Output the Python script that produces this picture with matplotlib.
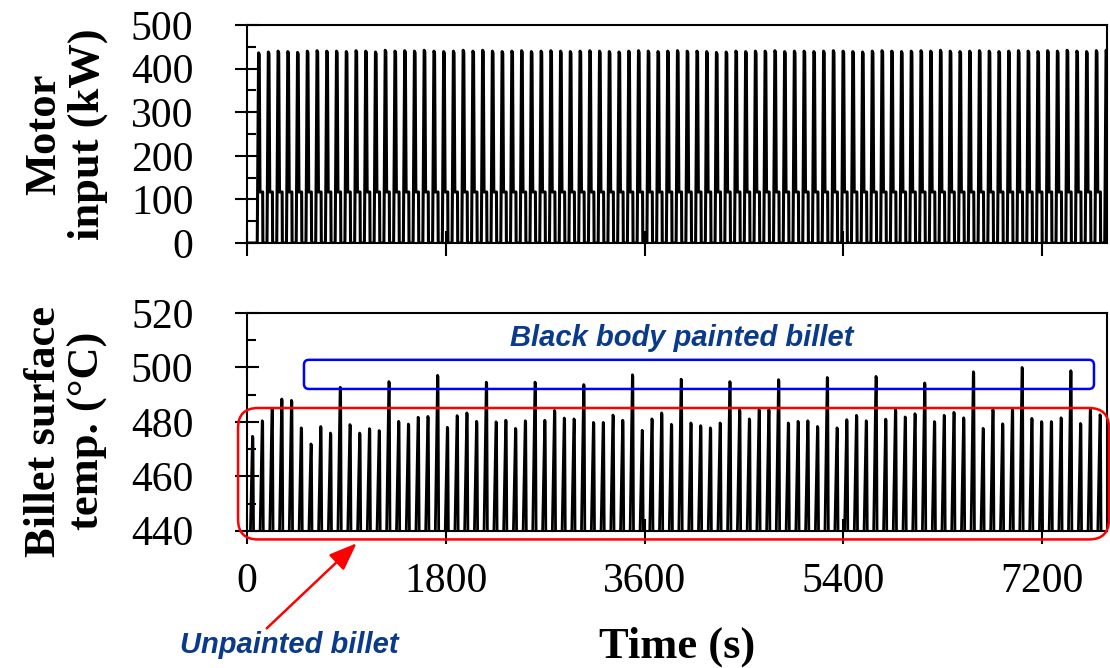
import matplotlib
matplotlib.use("Agg")
import matplotlib.pyplot as plt
from matplotlib.patches import FancyBboxPatch
from matplotlib.transforms import IdentityTransform

plt.rcParams['font.family'] = 'Liberation Serif'

# one billet every ~88 s
cycle_period = 88.2
first_motor_peak = 108.0
first_temp_peak = 52.0

# motor input, peak of each cycle (kW)
motor_peaks = [436, 438, 440, 439, 437, 440, 441, 440, 440, 439, 441, 440,
               438, 442, 440, 441, 440, 442, 440, 439, 440, 442, 440, 442,
               440, 439, 440, 441, 439, 440, 441, 440, 439, 440, 441, 440,
               439, 438, 440, 441, 440, 439, 440, 441, 440, 440, 439, 437,
               438, 440, 439, 440, 440, 441, 439, 440, 440, 439, 440, 441,
               440, 439, 438, 440, 441, 440, 439, 440, 441, 440, 442, 440,
               439, 440, 441, 440, 439, 440, 441, 440, 439, 441, 440, 442,
               440, 439, 441, 442]
motor_plateau = 117

# billet surface temperature, peak of each spike (degC)
temp_peaks = [474.7, 480.4, 484.7, 488.4, 487.9, 477.8, 471.9, 478.3, 475.9, 492.7,
              479.0, 475.9, 477.5, 476.8, 494.8, 480.2, 479.2, 481.7, 482.0, 497.1,
              478.0, 482.3, 483.3, 480.2, 494.6, 480.0, 480.6, 477.6, 480.4, 494.6,
              480.6, 484.2, 481.4, 481.1, 493.7, 479.8, 479.8, 482.5, 480.6, 497.3,
              476.9, 481.1, 483.3, 479.1, 495.7, 479.6, 478.6, 477.8, 479.6, 494.8,
              484.5, 481.1, 484.5, 484.5, 495.5, 479.6, 480.2, 480.4, 478.3, 496.3,
              477.8, 480.8, 482.4, 480.4, 496.7, 481.0, 484.5, 481.8, 483.0, 494.3,
              480.1, 482.4, 483.5, 481.5, 498.4, 477.6, 484.5, 479.3, 484.5, 500.0,
              481.3, 480.1, 480.1, 481.5, 498.8, 479.4, 484.5, 482.6, 479.0]
temp_base = 430  # between spikes, below the axis range

xticks = [0, 1800, 3600, 5400, 7200]


# build the traces cycle by cycle
def motor_trace():
    t, p = [0.0], [0.0]
    for i, pk in enumerate(motor_peaks):
        tp = first_motor_peak + i * cycle_period
        t += [tp - 15, tp - 3, tp + 3, tp + 10, tp + 34, tp + 36]
        p += [0, pk, pk - 4, motor_plateau, motor_plateau, 0]
    return t, p


def temp_trace():
    t, T = [], []
    for i, pk in enumerate(temp_peaks):
        tp = first_temp_peak + i * cycle_period
        t += [tp - 26, tp - 2, tp + 2, tp + 9]
        T += [temp_base, pk, pk - 0.5, temp_base]
    return t, T


# rounded box given in data units, drawn in pixels so corners stay round
def round_box(ax, x0, x1, y0, y1, color, radius):
    (px0, py0) = ax.transData.transform((x0, y0))
    (px1, py1) = ax.transData.transform((x1, y1))
    box = FancyBboxPatch((px0, py0), px1 - px0, py1 - py0,
                         boxstyle="round,pad=0,rounding_size=%g" % radius,
                         transform=IdentityTransform(), fill=False,
                         edgecolor=color, linewidth=1.8, clip_on=False, zorder=1)
    ax.figure.add_artist(box)


fig = plt.figure(figsize=(11.1, 6.68), dpi=100)
ax1 = fig.add_axes([0.2225, 0.6362, 0.7748, 0.3264])
ax2 = fig.add_axes([0.2225, 0.2055, 0.7748, 0.3259])

t, p = motor_trace()
ax1.plot(t, p, color='black', linewidth=2.2, zorder=2)
t, T = temp_trace()
ax2.plot(t, T, color='black', linewidth=2.0, zorder=2)

for ax in (ax1, ax2):
    ax.set_xlim(0, 7787)
    ax.set_xticks(xticks)
    for s in ax.spines.values():
        s.set_linewidth(1.5)
    ax.tick_params(axis='x', direction='inout', length=18, width=1.5,
                   labelsize=30, pad=14)
    ax.tick_params(axis='y', which='major', direction='inout', length=17,
                   width=1.5, labelsize=30, pad=30)
    ax.tick_params(axis='y', which='minor', direction='in', length=6.5, width=1.5)

ax1.set_ylim(0, 500)
ax1.set_yticks([0, 100, 200, 300, 400, 500])
ax1.set_yticks(range(50, 500, 100), minor=True)
ax1.tick_params(axis='x', labelbottom=False)
ax1.set_ylabel('Motor\ninput (kW)', fontsize=32, fontweight='bold', linespacing=1.1)
ax1.yaxis.set_label_coords(-0.162, 0.5)

ax2.set_ylim(440, 520)
ax2.set_yticks([440, 460, 480, 500, 520])
ax2.set_yticks([450, 470, 490, 510], minor=True)
ax2.set_ylabel('Billet surface\ntemp. (°C)', fontsize=32, fontweight='bold', linespacing=1.1)
ax2.yaxis.set_label_coords(-0.162, 0.458)
ax2.set_xlabel('Time (s)', fontsize=32, fontweight='bold')
ax2.xaxis.set_label_coords(0.5, -0.44)

note_color = '#0a3a8a'
note_font = dict(family='Liberation Sans', fontsize=21, fontweight='bold',
                 style='italic', color=note_color)

round_box(ax2, 516, 7669, 492.1, 502.8, 'blue', 5)
round_box(ax2, -81, 7805, 436.8, 485.1, 'red', 20)
ax2.text(3939, 510.9, 'Black body painted billet', ha='center', va='center', **note_font)

ax2.annotate('', xy=(993, 435.4), xycoords='data',
             xytext=(0.2403, 0.0594), textcoords='figure fraction',
             arrowprops=dict(arrowstyle='-|>,head_length=0.85,head_width=0.33',
                             mutation_scale=20, color='red', lw=1.8,
                             shrinkA=0, shrinkB=0),
             annotation_clip=False)
fig.text(0.2604, 0.0344, 'Unpainted billet', ha='center', va='center', **note_font)

fig.savefig('out.png', dpi=100)
